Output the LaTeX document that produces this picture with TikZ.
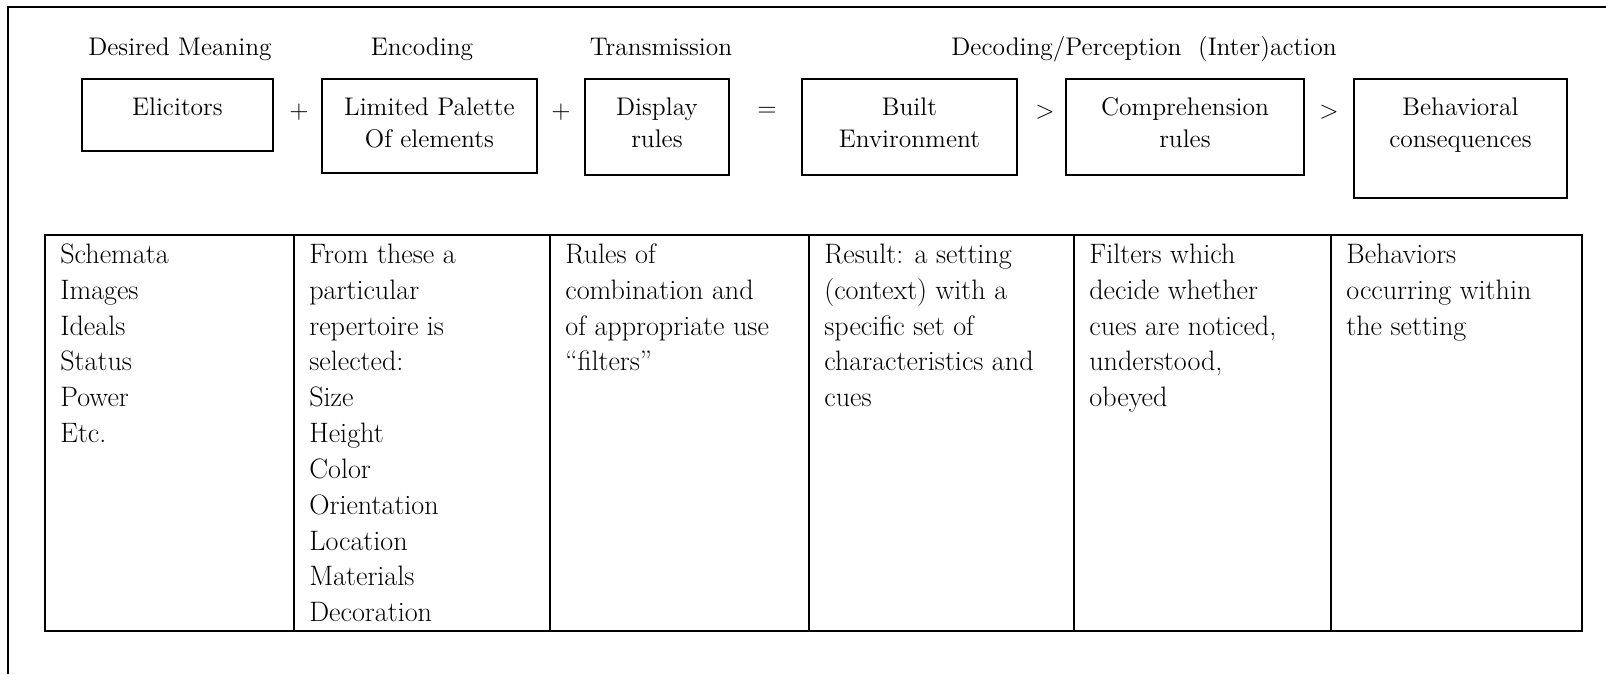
\documentclass[tikz,border=0pt]{standalone}

\newcommand{\topfont}{\fontsize{14.5pt}{18.2pt}\selectfont}
\newcommand{\cellfont}{\fontsize{16pt}{20.4pt}\selectfont}
\newcommand{\cellrule}{\rule{0pt}{0.56cm}}
\newcommand{\stagetext}[3]{\parbox[t][#2][t]{#1}{\centering\rule{0pt}{0.74cm}#3}}

\tikzset{
    stage/.style={draw, line width=1.1pt, inner sep=0pt, anchor=north west, font=\topfont},
    op/.style={font=\topfont},
    head/.style={anchor=base, font=\topfont},
    cell/.style={anchor=north west, inner sep=0pt, align=left, font=\cellfont},
    rule/.style={line width=1.1pt}
}

\begin{document}
\begin{tikzpicture}[x=0.02cm, y=-0.02cm]
    \useasboundingbox (0,0) rectangle (1606,674);

        %%frame
        \draw[rule] (8,674) -- (8,7) -- (1606,7);

        %%headings
        \node[head] (meaning) at (180,55) {Desired Meaning};
        \node[head] (encoding) at (422,55) {Encoding};
        \node[head] (transmission) at (661,55) {Transmission};
        \node[head] (decoding) at (1144,55) {Decoding/Perception\ \ (Inter)action};

        %%stages
        \node[stage] (elic) at (81,78) {\stagetext{3.82cm}{1.44cm}{Elicitors}};
            \node[op] (plusa) at (299,112) {$+$};
        \node[stage] (palette) at (321,78) {\stagetext{4.30cm}{1.88cm}{Limited Palette\\Of elements}};
            \node[op] (plusb) at (561,112) {$+$};
        \node[stage] (display) at (584,78) {\stagetext{2.88cm}{1.92cm}{Display\\rules}};
            \node[op] (equal) at (767,112) {$=$};
        \node[stage] (built) at (801,78) {\stagetext{4.30cm}{1.92cm}{Built\\Environment}};
            \node[op] (gta) at (1045,112) {$>$};
        \node[stage] (compr) at (1065,78) {\stagetext{4.76cm}{1.92cm}{Comprehension\\rules}};
            \node[op] (gtb) at (1329,112) {$>$};
        \node[stage] (behav) at (1353,78) {\stagetext{4.26cm}{2.38cm}{Behavioral\\consequences}};

        %%table
        \draw[rule] (45,235) rectangle (1582,631);
        \foreach \x in {294,550,809,1074,1331}
            \draw[rule] (\x,235) -- (\x,631);

        \node[cell] (meanings) at (60,235) {\cellrule Schemata\\Images\\Ideals\\Status\\Power\\Etc.};
        \node[cell] (repertoire) at (309,235) {\cellrule From these a\\particular\\repertoire is\\selected:\\Size\\Height\\Color\\Orientation\\Location\\Materials\\Decoration};
        \node[cell] (combination) at (565,235) {\cellrule Rules of\\combination and\\of appropriate use\\``filters''};
        \node[cell] (setting) at (824,235) {\cellrule Result: a setting\\(context) with a\\specific set of\\characteristics and\\cues};
        \node[cell] (filters) at (1089,235) {\cellrule Filters which\\decide whether\\cues are noticed,\\understood,\\obeyed};
        \node[cell] (behaviors) at (1346,235) {\cellrule Behaviors\\occurring within\\the setting};
\end{tikzpicture}
\end{document}
